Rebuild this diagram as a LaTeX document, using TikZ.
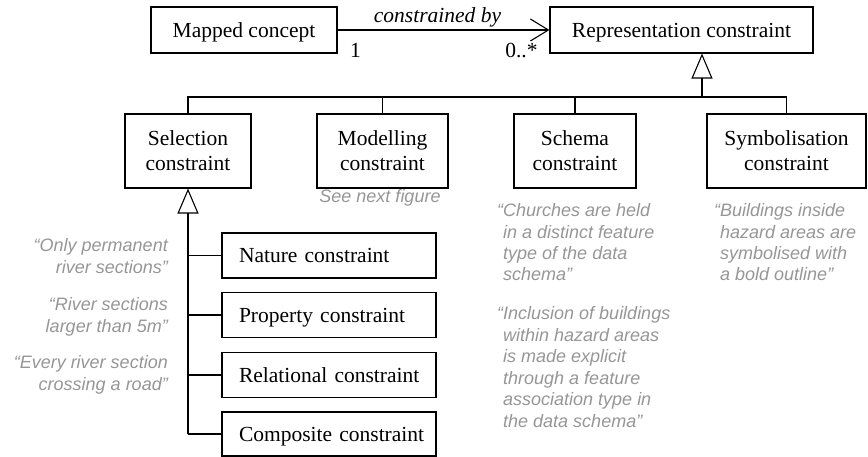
\documentclass[tikz,border=0pt]{standalone}
\usepackage{fontspec}
\setmainfont{Liberation Serif}
\newfontfamily\notefont{Liberation Sans}
\usetikzlibrary{arrows.meta}
\definecolor{notegray}{RGB}{150,150,150}
\begin{document}
\begin{tikzpicture}[x=1pt,y=-1pt,
  box/.style={draw,line width=1.1pt,inner sep=0pt,align=center,font=\fontsize{21.5}{25}\selectfont},
  onebox/.style={box,text height=18pt,text depth=3pt},
  subbox/.style={draw,line width=1.1pt,inner xsep=17pt,inner ysep=0pt,text width=180pt,align=left,minimum height=45pt,text height=18pt,text depth=3pt,font=\fontsize{21.5}{25}\selectfont},
  note/.style={inner sep=0pt,text=notegray,font=\notefont\itshape\fontsize{18}{21.5}\selectfont},
  lbl/.style={inner sep=0pt,font=\fontsize{21.5}{25}\selectfont},
  conn/.style={line width=1.1pt},
  gentip/.style={-{Triangle[open,length=25pt,width=21pt,line width=1.1pt]}},
  assoctip/.style={-{Straight Barb[length=18pt,width=22pt,line width=1.1pt]}}
]
\useasboundingbox (0,0) rectangle (868,457);

% top row
\node[onebox,minimum width=186pt,minimum height=46pt] (map) at (244,30) {Mapped concept};
\node[onebox,minimum width=263pt,minimum height=46pt] (repr) at (681.5,30) {Representation constraint};

% second row
\node[box,minimum width=126pt,minimum height=74pt] (sel) at (188,151) {Selection\\constraint};
\node[box,minimum width=131pt,minimum height=74pt] (mod) at (382.5,151) {Modelling\\constraint};
\node[box,minimum width=122pt,minimum height=74pt] (sch) at (575,151) {Schema\\constraint};
\node[box,minimum width=159pt,minimum height=74pt] (sym) at (786.5,151) {Symbolisation\\constraint};

% sub boxes
\node[subbox] (nat) at (329,255.5) {\mbox{Nature constraint}};
\node[subbox] (pro) at (329,315) {\mbox{Property constraint}};
\node[subbox] (rel) at (329,375) {\mbox{Relational constraint}};
\node[subbox,minimum height=44pt] (com) at (329,434) {\mbox{Composite constraint}};

% association
\draw[conn,assoctip] (map.east) -- (repr.west)
  node[lbl,midway,anchor=base,yshift=7pt,xshift=-6pt] (cb) {\itshape constrained by}
  node[lbl,pos=0,anchor=base,xshift=18pt,yshift=-28pt] (one) {1}
  node[lbl,pos=1,anchor=base,xshift=-28pt,yshift=-28pt] (many) {0..*};

% generalisation of representation constraint
\coordinate (rj) at (702,97);
\coordinate (rb) at (702,78);
\draw[line width=2pt] (rj) -- (rb);
\draw[gentip] (rb) -- (rj |- repr.south);
\draw[conn] (sel.north) -- (sel.north |- rj) -- (sym.north |- rj) -- (sym.north);
\draw[conn] (mod.north |- rj) -- (mod.north);
\draw[conn] (sch.north |- rj) -- (sch.north);

% generalisation of selection constraint
\draw[conn,gentip] (sel.south |- com.west) -- (sel.south);
\draw[conn] (sel.south |- nat.west) -- (nat.west);
\draw[conn] (sel.south |- pro.west) -- (pro.west);
\draw[conn] (sel.south |- rel.west) -- (rel.west);
\draw[conn] (sel.south |- com.west) -- (com.west);

% notes (base anchor = baseline of last line)
\node[note,anchor=base] (n0) at (380,203) {See next figure};
\node[note,align=right,anchor=base east] (n1) at (168,273) {“Only permanent\\river sections”};
\node[note,align=right,anchor=base east] (n2) at (168,332) {“River sections\\larger than 5m”};
\node[note,align=right,anchor=base east] (n3) at (168,390) {“Every river section\\crossing a road”};
\node[note,align=left,anchor=base west] (n4) at (503,281) {\llap{“}Churches are held\\in a distinct feature\\type of the data\\schema”};
\node[note,align=left,anchor=base west] (n5) at (503,427) {\llap{“}Inclusion of buildings\\within hazard areas\\is made explicit\\through a feature\\association type in\\the data schema”};
\node[note,align=left,anchor=base west] (n6) at (720,281) {\llap{“}Buildings inside\\hazard areas are\\symbolised with\\a bold outline”};
\end{tikzpicture}
\end{document}
